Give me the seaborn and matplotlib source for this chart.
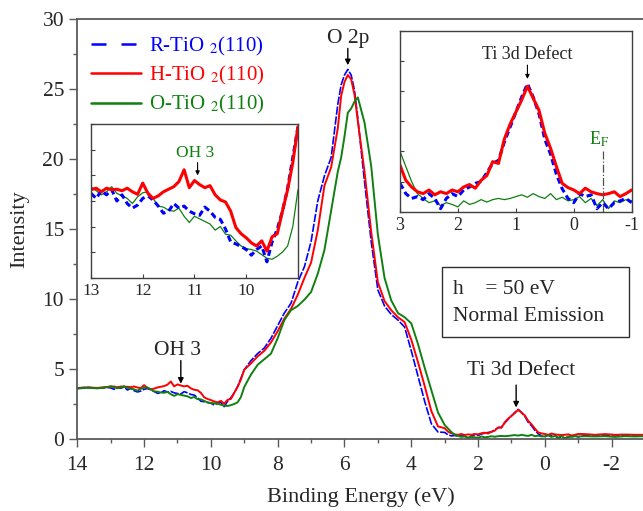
import numpy as np
import pandas as pd
import matplotlib
matplotlib.use("Agg")
import matplotlib.pyplot as plt
import seaborn as sns
from matplotlib.lines import Line2D
from matplotlib.patches import Rectangle
from matplotlib.ticker import MultipleLocator, FixedLocator

sns.set_style("ticks")
plt.rcParams["font.family"] = ["Liberation Serif", "DejaVu Serif"]
plt.rcParams["mathtext.fontset"] = "stix"

# ---------------- data (binding energy grid, eV) ----------------
e_hi = [14.0, 13.7, 13.4, 13.1]
e_a = list(np.round(np.arange(13.0, 8.95, -0.1), 1))      # 13.0 .. 9.0
e_b1 = list(np.round(np.arange(8.8, 6.15, -0.2), 1))      # 8.8 .. 6.2
e_b2 = list(np.round(np.arange(6.1, 5.45, -0.1), 1))      # 6.1 .. 5.5
e_b3 = list(np.round(np.arange(5.4, 3.15, -0.2), 1))      # 5.4 .. 3.2
e_c = list(np.round(np.arange(3.0, -1.05, -0.1), 1))      # 3.0 .. -1.0
e_d = list(np.round(np.arange(-1.2, -3.05, -0.3), 1))     # -1.2 .. -3.0
energy = e_hi + e_a + e_b1 + e_b2 + e_b3 + e_c + e_d

# R-TiO2(110) (blue)
r_hi = [3.65, 3.70, 3.62, 3.68]
r_a = [3.65, 3.55, 3.70, 3.62, 3.72, 3.50, 3.62, 3.45, 3.36, 3.42,
       3.55, 3.60, 3.52, 3.40, 3.26, 3.30, 3.45, 3.36, 3.40, 3.30,
       3.25, 3.22, 3.38, 3.30, 3.18, 3.14, 2.95, 2.70, 2.66, 2.61,
       2.55, 2.44, 2.55, 2.62, 2.31, 2.70, 2.95, 3.30, 3.75, 4.35, 4.95]
r_b1 = [5.6, 6.1, 6.5, 7.2, 8.1, 9.0, 9.7, 11.2, 12.3, 14.1, 17.0, 18.8, 20.1, 23.9]
r_b2 = [25.3, 26.0, 26.4, 26.0, 24.9, 22.9, 20.6]
r_b3 = [18.4, 14.1, 10.65, 9.5, 8.9, 8.5, 8.0, 6.3, 4.5, 2.7, 1.1, 0.5]
r_c = [0.47, 0.30, 0.22, 0.25, 0.20, 0.30, 0.22, 0.05, 0.22, 0.30,
       0.25, 0.36, 0.41, 0.47, 0.50, 0.65, 0.80, 0.85, 1.15, 1.40,
       1.65, 1.90, 2.12, 1.90, 1.62, 1.20, 0.95, 0.62, 0.38, 0.22,
       0.15, 0.30, 0.25, 0.28, 0.05, 0.15, 0.05, 0.15, 0.18, 0.22, 0.15]
r_d = [0.25, 0.20, 0.25, 0.20, 0.25, 0.22, 0.20]

# H-TiO2(110) (red)
h_hi = [3.62, 3.68, 3.65, 3.72]
h_a = [3.72, 3.75, 3.68, 3.75, 3.72, 3.73, 3.70, 3.75, 3.68, 3.63,
       3.85, 3.65, 3.55, 3.60, 3.68, 3.73, 3.78, 3.88, 4.11, 3.76,
       3.90, 3.82, 3.76, 3.80, 3.62, 3.52, 3.48, 3.30, 2.98, 2.86,
       2.78, 2.68, 2.62, 2.72, 2.52, 2.80, 2.86, 3.30, 3.72, 4.25, 4.95]
h_b1 = [5.4, 5.9, 6.3, 6.9, 7.7, 8.6, 9.3, 10.3, 11.5, 12.6, 14.9, 18.1, 19.4, 22.2]
h_b2 = [24.5, 25.5, 26.0, 25.7, 24.6, 22.7, 20.9]
h_b3 = [19.1, 14.8, 11.2, 9.85, 9.2, 8.7, 8.35, 7.1, 5.5, 3.8, 2.0, 0.9]
h_c = [0.77, 0.52, 0.41, 0.33, 0.30, 0.36, 0.28, 0.33, 0.30, 0.36,
       0.33, 0.41, 0.45, 0.39, 0.52, 0.60, 0.83, 0.80, 1.20, 1.45,
       1.65, 1.85, 2.08, 1.88, 1.68, 1.30, 1.05, 0.75, 0.47, 0.40,
       0.36, 0.30, 0.39, 0.33, 0.30, 0.28, 0.30, 0.33, 0.25, 0.30, 0.36]
h_d = [0.35, 0.30, 0.35, 0.30, 0.32, 0.30, 0.30]

# O-TiO2(110) (green)
o_hi = [3.60, 3.66, 3.62, 3.70]
o_a = [3.78, 3.70, 3.62, 3.68, 3.78, 3.65, 3.60, 3.55, 3.45, 3.58,
       3.66, 3.68, 3.55, 3.40, 3.38, 3.32, 3.30, 3.36, 3.20, 3.08,
       3.20, 3.15, 3.10, 3.05, 2.93, 3.00, 2.85, 2.83, 2.72, 2.62,
       2.57, 2.55, 2.52, 2.45, 2.38, 2.36, 2.42, 2.50, 2.62, 3.00, 3.72]
o_b1 = [4.6, 5.3, 5.7, 6.1, 7.2, 8.5, 9.2, 9.5, 9.95, 10.5, 11.8, 13.5, 16.3, 19.1]
o_b2 = [20.1, 21.6, 23.3, 23.6, 24.1, 24.4, 23.5]
o_b3 = [22.6, 19.5, 14.6, 11.5, 9.9, 9.0, 8.7, 8.26, 6.8, 5.1, 3.5, 1.9]
o_c = [1.00, 0.75, 0.50, 0.30, 0.22, 0.15, 0.18, 0.10, 0.15, 0.12,
       0.08, 0.18, 0.12, 0.15, 0.20, 0.16, 0.20, 0.22, 0.20, 0.22,
       0.25, 0.28, 0.24, 0.30, 0.25, 0.22, 0.30, 0.20, 0.24, 0.18,
       0.20, 0.25, 0.15, 0.22, 0.10, 0.20, 0.05, 0.18, 0.15, 0.20, 0.18]
o_d = [0.20, 0.18, 0.20, 0.15, 0.20, 0.18, 0.20]

r_tio2 = r_hi + r_a + r_b1 + r_b2 + r_b3 + r_c + r_d
h_tio2 = h_hi + h_a + h_b1 + h_b2 + h_b3 + h_c + h_d
o_tio2 = o_hi + o_a + o_b1 + o_b2 + o_b3 + o_c + o_d

labels = ["R-TiO $_{2}$(110)", "H-TiO $_{2}$(110)", "O-TiO $_{2}$(110)"]
colors = ["#0000ff", "#ff0000", "#108010"]
x_ticks = [14, 12, 10, 8, 6, 4, 2, 0, -2]
y_ticks = [0, 5, 10, 15, 20, 25, 30]

df = pd.DataFrame({"energy": energy * 3,
                   "intensity": r_tio2 + h_tio2 + o_tio2,
                   "sample": ["R"] * len(energy) + ["H"] * len(energy) + ["O"] * len(energy)})

# ---------------- figure ----------------
fig = plt.figure(figsize=(6.43, 5.11), dpi=100)
ax = fig.add_axes([0.1202, 0.1409, 0.883, 0.8219])

spine_c = "#5a5a5a"
d = df[df["sample"] == "R"]
sns.lineplot(data=d, x="energy", y="intensity", ax=ax, color=colors[0], lw=1.2,
             estimator=None, sort=False, legend=False)
ax.lines[-1].set_dashes((5, 1))
d = df[df["sample"] == "H"]
sns.lineplot(data=d, x="energy", y="intensity", ax=ax, color=colors[1], lw=1.4,
             estimator=None, sort=False, legend=False)
d = df[df["sample"] == "O"]
sns.lineplot(data=d, x="energy", y="intensity", ax=ax, color=colors[2], lw=1.4,
             estimator=None, sort=False, legend=False)

ax.set_xlim(14, -3)
ax.set_ylim(0, 30)
ax.xaxis.set_major_locator(FixedLocator(x_ticks))
ax.yaxis.set_major_locator(FixedLocator(y_ticks))
ax.xaxis.set_minor_locator(MultipleLocator(1))
ax.yaxis.set_minor_locator(MultipleLocator(2.5))
ax.set_xticklabels([str(v) for v in x_ticks])
ax.tick_params(which="major", direction="out", length=5.5, width=1.0, color=spine_c,
               labelsize=15.5)
ax.tick_params(axis="x", which="major", pad=7)
ax.tick_params(axis="y", which="major", pad=4)
ax.tick_params(which="minor", direction="out", length=3, width=1.0, color=spine_c)
for s in ["left", "bottom", "top"]:
    ax.spines[s].set_color(spine_c)
    ax.spines[s].set_linewidth(1.3)
ax.spines["right"].set_visible(False)
ax.set_xlabel("Binding Energy (eV)", fontsize=16)
ax.set_ylabel("Intensity", fontsize=16)
ax.xaxis.set_label_coords(0.5, -0.115)
ax.yaxis.set_label_coords(-0.085, 0.5)

arrow_kw = dict(arrowstyle="-|>", color="black", lw=1.0, mutation_scale=8,
                shrinkA=0, shrinkB=0)
ax.text(5.9, 28.6, "O 2p", ha="center", va="center", fontsize=15.5)
ax.annotate("", xy=(5.9, 26.7), xytext=(5.9, 27.9), arrowprops=arrow_kw)
ax.text(11.0, 6.3, "OH 3", ha="center", va="center", fontsize=15.5)
ax.annotate("", xy=(10.9, 3.95), xytext=(10.9, 5.6), arrowprops=arrow_kw)
ax.text(0.70, 4.9, "Ti 3d Defect", ha="center", va="center", fontsize=15.5)
ax.annotate("", xy=(0.86, 2.25), xytext=(0.86, 3.85), arrowprops=arrow_kw)

# legend
handles = [Line2D([], [], color=colors[0], lw=1.8, dashes=(6, 6)),
           Line2D([], [], color=colors[1], lw=1.8),
           Line2D([], [], color=colors[2], lw=1.8)]
leg = ax.legend(handles, labels, loc="upper left", bbox_to_anchor=(0.142, 0.932),
                bbox_transform=fig.transFigure, frameon=False, fontsize=15,
                handlelength=2.4, handletextpad=0.35, labelspacing=0.3,
                borderpad=0, borderaxespad=0)
for t, c in zip(leg.get_texts(), colors):
    t.set_color(c)

# text box
fig.patches.append(Rectangle((0.687, 0.340), 0.2913, 0.137, transform=fig.transFigure,
                             fill=False, edgecolor="#303030", lw=1.0))
fig.text(0.7045, 0.4325, "h    = 50 eV", fontsize=15.5, va="center", ha="left")
fig.text(0.7045, 0.3802, "Normal Emission", fontsize=15.5, va="center", ha="left")

# ---------------- inset 1 (OH 3) ----------------
ax1 = fig.add_axes([0.1415, 0.4566, 0.3219, 0.3002])
ax1.set_facecolor("white")
sub = df[(df["energy"] <= 13.05) & (df["energy"] >= 8.85)]
sns.lineplot(data=sub[sub["sample"] == "O"], x="energy", y="intensity", ax=ax1,
             color=colors[2], lw=0.9, estimator=None, sort=False, legend=False)
sns.lineplot(data=sub[sub["sample"] == "R"], x="energy", y="intensity", ax=ax1,
             color=colors[0], lw=2.2, estimator=None, sort=False, legend=False)
ax1.lines[-1].set_dashes((2.0, 1.2))
sns.lineplot(data=sub[sub["sample"] == "H"], x="energy", y="intensity", ax=ax1,
             color=colors[1], lw=2.2, estimator=None, sort=False, legend=False)
ax1.set_xlim(13, 9.0)
ax1.set_ylim(2.0, 5.0)
ax1.xaxis.set_major_locator(FixedLocator([13, 12, 11, 10]))
ax1.set_xticklabels(["13", "12", "11", "10"])
ax1.yaxis.set_major_locator(MultipleLocator(0.5))
ax1.set_yticklabels([])
ax1.tick_params(direction="in", length=3, width=0.8, color="#404040", labelsize=12.5, pad=4)
ax1.set_xlabel("")
ax1.set_ylabel("")
for s in ax1.spines.values():
    s.set_color("#404040")
    s.set_linewidth(1.0)
ax1.text(10.99, 4.43, "OH 3", color=colors[2], ha="center", va="center", fontsize=12.5)
ax1.annotate("", xy=(10.94, 4.0), xytext=(10.94, 4.25),
             arrowprops=dict(arrowstyle="-|>", color="black", lw=0.8, mutation_scale=6,
                             shrinkA=0, shrinkB=0))

# ---------------- inset 2 (Ti 3d defect) ----------------
ax2 = fig.add_axes([0.6221, 0.5857, 0.3603, 0.3542])
ax2.set_facecolor("white")
sub = df[(df["energy"] <= 3.05) & (df["energy"] >= -1.05)]
sns.lineplot(data=sub[sub["sample"] == "O"], x="energy", y="intensity", ax=ax2,
             color=colors[2], lw=0.9, estimator=None, sort=False, legend=False)
sns.lineplot(data=sub[sub["sample"] == "R"], x="energy", y="intensity", ax=ax2,
             color=colors[0], lw=2.2, estimator=None, sort=False, legend=False)
ax2.lines[-1].set_dashes((2.0, 1.2))
sns.lineplot(data=sub[sub["sample"] == "H"], x="energy", y="intensity", ax=ax2,
             color=colors[1], lw=2.2, estimator=None, sort=False, legend=False)
ax2.set_xlim(3, -1)
ax2.set_ylim(0, 3)
ax2.xaxis.set_major_locator(FixedLocator([3, 2, 1, 0, -1]))
ax2.set_xticklabels(["3", "2", "1", "0", "-1"])
ax2.yaxis.set_major_locator(MultipleLocator(0.5))
ax2.set_yticklabels([])
ax2.tick_params(direction="in", length=3, width=0.8, color="#404040", labelsize=13, pad=4)
ax2.set_xlabel("")
ax2.set_ylabel("")
for s in ax2.spines.values():
    s.set_color("#404040")
    s.set_linewidth(1.0)
ax2.plot([-0.5, -0.5], [0, 1.02], color="#505050", lw=0.9, linestyle="-.")
ax2.text(-0.44, 1.2, r"E$_{\mathrm{F}}$", color=colors[2], ha="center", va="center",
         fontsize=13)
ax2.text(0.80, 2.6, "Ti 3d Defect", ha="center", va="center", fontsize=13)
ax2.annotate("", xy=(0.80, 2.2), xytext=(0.80, 2.43),
             arrowprops=dict(arrowstyle="-|>", color="black", lw=0.8, mutation_scale=6,
                             shrinkA=0, shrinkB=0))

fig.savefig("out.png", dpi=100)
